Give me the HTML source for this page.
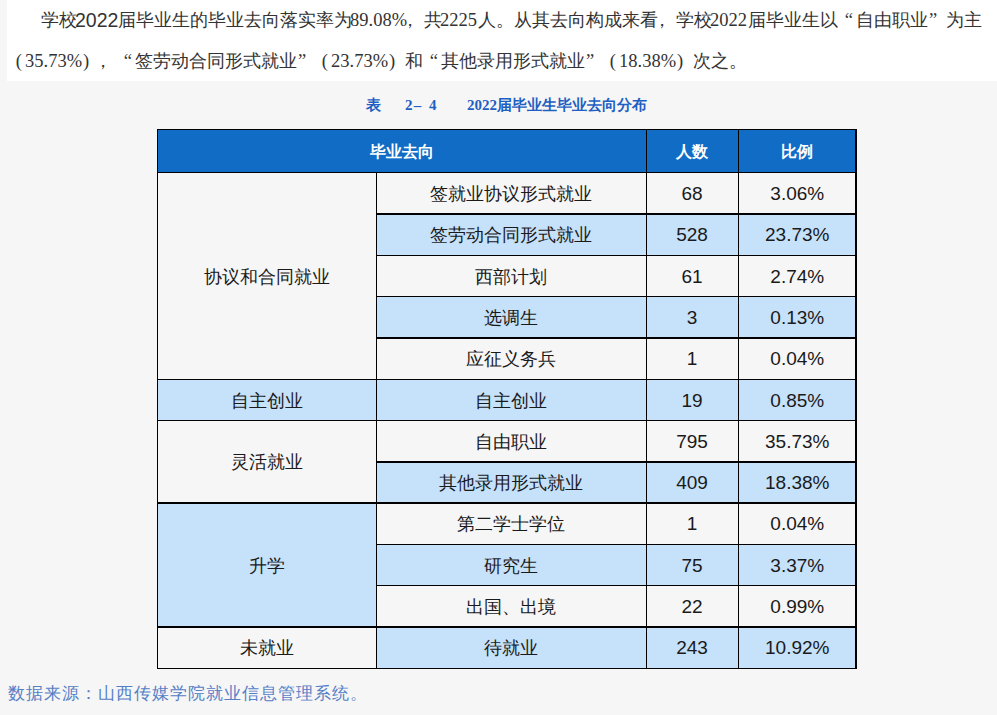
<!DOCTYPE html>
<html><head><meta charset="utf-8">
<style>
html,body{margin:0;padding:0;}
body{width:997px;height:715px;background:#f6f6f6;position:relative;overflow:hidden;font-family:"Liberation Sans",sans-serif;}
.wb{position:absolute;left:7px;top:0;width:990px;height:80.5px;background:#fff;}
.p{position:absolute;left:0;width:997px;height:22px;font-family:"Liberation Serif",serif;font-size:17.5px;color:#333;line-height:22px;}
.p b{position:absolute;top:0;font-weight:normal;display:block;white-space:nowrap;}
.p b.a{font-size:18.5px;}
.p.cap b.a{font-size:15px;}
.p.s{font-family:"Liberation Sans",sans-serif;}
.p.cap{font-size:15px;color:#1f5fc2;height:20px;line-height:20px;}
.p.cap b{font-weight:bold;}
.p.f{color:#5580c6;font-size:17px;}
.c{position:absolute;display:flex;align-items:center;justify-content:center;font-size:18px;color:#1a1a1a;box-sizing:border-box;white-space:nowrap;}
.c span{display:block;line-height:22px;padding-top:2px;}
.c.n{font-size:19px;}
.c.h{color:#fff;font-weight:bold;font-size:16px;}
.l{position:absolute;background:#000;}
</style></head><body>
<div class="wb"></div>
<div class="p" style="top:9px"><b style="left:40.50px;width:18px;text-align:center">学</b><b style="left:58.50px;width:18px;text-align:center">校</b></div><div class="p s" style="top:9px"><b style="left:75px;width:41px;font-size:19.5px">2022</b></div><div class="p" style="top:9px"><b style="left:117.50px;width:18px;text-align:center">届</b><b style="left:135.50px;width:18px;text-align:center">毕</b><b style="left:153.50px;width:18px;text-align:center">业</b><b style="left:171.50px;width:18px;text-align:center">生</b><b style="left:189.50px;width:18px;text-align:center">的</b><b style="left:207.50px;width:18px;text-align:center">毕</b><b style="left:225.50px;width:18px;text-align:center">业</b><b style="left:243.50px;width:18px;text-align:center">去</b><b style="left:261.50px;width:18px;text-align:center">向</b><b style="left:279.50px;width:18px;text-align:center">落</b><b style="left:297.50px;width:18px;text-align:center">实</b><b style="left:315.50px;width:18px;text-align:center">率</b><b style="left:333.50px;width:18px;text-align:center">为</b><b class="a" style="left:350.00px;width:54.0px;text-align:center">89.08%</b><b style="left:400.50px;width:18px;text-align:center">，</b><b style="left:423.50px;width:18px;text-align:center">共</b><b class="a" style="left:440.00px;width:36.0px;text-align:center">2225</b><b style="left:477.50px;width:18px;text-align:center">人</b><b style="left:495.50px;width:18px;text-align:center">。</b><b style="left:513.50px;width:18px;text-align:center">从</b><b style="left:531.50px;width:18px;text-align:center">其</b><b style="left:549.50px;width:18px;text-align:center">去</b><b style="left:567.50px;width:18px;text-align:center">向</b><b style="left:585.50px;width:18px;text-align:center">构</b><b style="left:603.50px;width:18px;text-align:center">成</b><b style="left:621.50px;width:18px;text-align:center">来</b><b style="left:639.50px;width:18px;text-align:center">看</b><b style="left:652.50px;width:18px;text-align:center">，</b><b style="left:675.50px;width:18px;text-align:center">学</b><b style="left:693.50px;width:18px;text-align:center">校</b><b class="a" style="left:710.00px;width:36.0px;text-align:center">2022</b><b style="left:747.50px;width:18px;text-align:center">届</b><b style="left:765.50px;width:18px;text-align:center">毕</b><b style="left:783.50px;width:18px;text-align:center">业</b><b style="left:801.50px;width:18px;text-align:center">生</b><b style="left:819.50px;width:18px;text-align:center">以</b><b class="a" style="left:836.00px;width:18px;text-align:right;box-sizing:border-box;padding-right:1px">“</b><b style="left:855.50px;width:18px;text-align:center">自</b><b style="left:873.50px;width:18px;text-align:center">由</b><b style="left:891.50px;width:18px;text-align:center">职</b><b style="left:909.50px;width:18px;text-align:center">业</b><b class="a" style="left:926.00px;width:18px;text-align:left;box-sizing:border-box;padding-left:3px">”</b><b style="left:945.50px;width:18px;text-align:center">为</b><b style="left:963.50px;width:18px;text-align:center">主</b></div><div class="p" style="top:50px"><b class="a" style="left:7.00px;width:18px;text-align:right;box-sizing:border-box;padding-right:3px">(</b><b class="a" style="left:25.00px;width:54.0px;text-align:center">35.73%</b><b class="a" style="left:79.00px;width:18px;text-align:left;box-sizing:border-box;padding-left:4px">)</b><b style="left:93.50px;width:18px;text-align:center">，</b><b class="a" style="left:115.00px;width:18px;text-align:right;box-sizing:border-box;padding-right:1px">“</b><b style="left:134.50px;width:18px;text-align:center">签</b><b style="left:152.50px;width:18px;text-align:center">劳</b><b style="left:170.50px;width:18px;text-align:center">动</b><b style="left:188.50px;width:18px;text-align:center">合</b><b style="left:206.50px;width:18px;text-align:center">同</b><b style="left:224.50px;width:18px;text-align:center">形</b><b style="left:242.50px;width:18px;text-align:center">式</b><b style="left:260.50px;width:18px;text-align:center">就</b><b style="left:278.50px;width:18px;text-align:center">业</b><b class="a" style="left:295.00px;width:18px;text-align:left;box-sizing:border-box;padding-left:3px">”</b><b class="a" style="left:313.00px;width:18px;text-align:right;box-sizing:border-box;padding-right:3px">(</b><b class="a" style="left:331.00px;width:54.0px;text-align:center">23.73%</b><b class="a" style="left:385.00px;width:18px;text-align:left;box-sizing:border-box;padding-left:4px">)</b><b style="left:404.50px;width:18px;text-align:center">和</b><b class="a" style="left:421.00px;width:18px;text-align:right;box-sizing:border-box;padding-right:1px">“</b><b style="left:440.50px;width:18px;text-align:center">其</b><b style="left:458.50px;width:18px;text-align:center">他</b><b style="left:476.50px;width:18px;text-align:center">录</b><b style="left:494.50px;width:18px;text-align:center">用</b><b style="left:512.50px;width:18px;text-align:center">形</b><b style="left:530.50px;width:18px;text-align:center">式</b><b style="left:548.50px;width:18px;text-align:center">就</b><b style="left:566.50px;width:18px;text-align:center">业</b><b class="a" style="left:583.00px;width:18px;text-align:left;box-sizing:border-box;padding-left:3px">”</b><b class="a" style="left:601.00px;width:18px;text-align:right;box-sizing:border-box;padding-right:3px">(</b><b class="a" style="left:619.00px;width:54.0px;text-align:center">18.38%</b><b class="a" style="left:673.00px;width:18px;text-align:left;box-sizing:border-box;padding-left:4px">)</b><b style="left:692.50px;width:18px;text-align:center">次</b><b style="left:710.50px;width:18px;text-align:center">之</b><b style="left:728.50px;width:18px;text-align:center">。</b></div>
<div class="p cap" style="top:94.5px"><b style="left:366.00px;width:15px;text-align:center">表</b></div><div class="p cap" style="top:94.5px"><b class="a" style="left:405.00px;width:7.5px;text-align:center">2</b></div><div class="p cap" style="top:94.5px"><b class="a" style="left:413.5px;width:8px;text-align:center">–</b></div><div class="p cap" style="top:94.5px"><b class="a" style="left:429.00px;width:7.5px;text-align:center">4</b></div><div class="p cap" style="top:94.5px"><b class="a" style="left:467.00px;width:30.0px;text-align:center">2022</b><b style="left:497.00px;width:15px;text-align:center">届</b><b style="left:512.00px;width:15px;text-align:center">毕</b><b style="left:527.00px;width:15px;text-align:center">业</b><b style="left:542.00px;width:15px;text-align:center">生</b><b style="left:557.00px;width:15px;text-align:center">毕</b><b style="left:572.00px;width:15px;text-align:center">业</b><b style="left:587.00px;width:15px;text-align:center">去</b><b style="left:602.00px;width:15px;text-align:center">向</b><b style="left:617.00px;width:15px;text-align:center">分</b><b style="left:632.00px;width:15px;text-align:center">布</b></div>
<div class="c h" style="left:157px;top:129px;width:489px;height:43px;background:#106cc4"><span>毕业去向</span></div><div class="c h" style="left:646px;top:129px;width:92px;height:43px;background:#106cc4"><span>人数</span></div><div class="c h" style="left:738px;top:129px;width:118.5px;height:43px;background:#106cc4"><span>比例</span></div><div class="c " style="left:376px;top:172px;width:270px;height:41.5px;background:#f6f6f6"><span>签就业协议形式就业</span></div><div class="c n" style="left:646px;top:172px;width:92px;height:41.5px;background:#f6f6f6"><span>68</span></div><div class="c n" style="left:738px;top:172px;width:118.5px;height:41.5px;background:#f6f6f6"><span>3.06%</span></div><div class="c " style="left:376px;top:213.5px;width:270px;height:41.5px;background:#c6e1fa"><span>签劳动合同形式就业</span></div><div class="c n" style="left:646px;top:213.5px;width:92px;height:41.5px;background:#c6e1fa"><span>528</span></div><div class="c n" style="left:738px;top:213.5px;width:118.5px;height:41.5px;background:#c6e1fa"><span>23.73%</span></div><div class="c " style="left:376px;top:255px;width:270px;height:41px;background:#f6f6f6"><span>西部计划</span></div><div class="c n" style="left:646px;top:255px;width:92px;height:41px;background:#f6f6f6"><span>61</span></div><div class="c n" style="left:738px;top:255px;width:118.5px;height:41px;background:#f6f6f6"><span>2.74%</span></div><div class="c " style="left:376px;top:296px;width:270px;height:41.5px;background:#c6e1fa"><span>选调生</span></div><div class="c n" style="left:646px;top:296px;width:92px;height:41.5px;background:#c6e1fa"><span>3</span></div><div class="c n" style="left:738px;top:296px;width:118.5px;height:41.5px;background:#c6e1fa"><span>0.13%</span></div><div class="c " style="left:376px;top:337.5px;width:270px;height:41.5px;background:#f6f6f6"><span>应征义务兵</span></div><div class="c n" style="left:646px;top:337.5px;width:92px;height:41.5px;background:#f6f6f6"><span>1</span></div><div class="c n" style="left:738px;top:337.5px;width:118.5px;height:41.5px;background:#f6f6f6"><span>0.04%</span></div><div class="c " style="left:376px;top:379px;width:270px;height:41px;background:#c6e1fa"><span>自主创业</span></div><div class="c n" style="left:646px;top:379px;width:92px;height:41px;background:#c6e1fa"><span>19</span></div><div class="c n" style="left:738px;top:379px;width:118.5px;height:41px;background:#c6e1fa"><span>0.85%</span></div><div class="c " style="left:376px;top:420px;width:270px;height:41.5px;background:#f6f6f6"><span>自由职业</span></div><div class="c n" style="left:646px;top:420px;width:92px;height:41.5px;background:#f6f6f6"><span>795</span></div><div class="c n" style="left:738px;top:420px;width:118.5px;height:41.5px;background:#f6f6f6"><span>35.73%</span></div><div class="c " style="left:376px;top:461.5px;width:270px;height:41.0px;background:#c6e1fa"><span>其他录用形式就业</span></div><div class="c n" style="left:646px;top:461.5px;width:92px;height:41.0px;background:#c6e1fa"><span>409</span></div><div class="c n" style="left:738px;top:461.5px;width:118.5px;height:41.0px;background:#c6e1fa"><span>18.38%</span></div><div class="c " style="left:376px;top:502.5px;width:270px;height:41.5px;background:#f6f6f6"><span>第二学士学位</span></div><div class="c n" style="left:646px;top:502.5px;width:92px;height:41.5px;background:#f6f6f6"><span>1</span></div><div class="c n" style="left:738px;top:502.5px;width:118.5px;height:41.5px;background:#f6f6f6"><span>0.04%</span></div><div class="c " style="left:376px;top:544px;width:270px;height:41px;background:#c6e1fa"><span>研究生</span></div><div class="c n" style="left:646px;top:544px;width:92px;height:41px;background:#c6e1fa"><span>75</span></div><div class="c n" style="left:738px;top:544px;width:118.5px;height:41px;background:#c6e1fa"><span>3.37%</span></div><div class="c " style="left:376px;top:585px;width:270px;height:41.5px;background:#f6f6f6"><span>出国、出境</span></div><div class="c n" style="left:646px;top:585px;width:92px;height:41.5px;background:#f6f6f6"><span>22</span></div><div class="c n" style="left:738px;top:585px;width:118.5px;height:41.5px;background:#f6f6f6"><span>0.99%</span></div><div class="c " style="left:376px;top:626.5px;width:270px;height:41.5px;background:#c6e1fa"><span>待就业</span></div><div class="c n" style="left:646px;top:626.5px;width:92px;height:41.5px;background:#c6e1fa"><span>243</span></div><div class="c n" style="left:738px;top:626.5px;width:118.5px;height:41.5px;background:#c6e1fa"><span>10.92%</span></div><div class="c " style="left:157px;top:172px;width:219px;height:207px;background:#f6f6f6"><span>协议和合同就业</span></div><div class="c " style="left:157px;top:379px;width:219px;height:41px;background:#c6e1fa"><span>自主创业</span></div><div class="c " style="left:157px;top:420px;width:219px;height:82.5px;background:#f6f6f6"><span>灵活就业</span></div><div class="c " style="left:157px;top:502.5px;width:219px;height:124.0px;background:#c6e1fa"><span>升学</span></div><div class="c " style="left:157px;top:626.5px;width:219px;height:41.5px;background:#f6f6f6"><span>未就业</span></div>
<div class="l" style="left:157px;top:129px;width:700px;height:1px"></div><div class="l" style="left:157px;top:172px;width:700px;height:1px"></div><div class="l" style="left:376px;top:213px;width:481px;height:2px"></div><div class="l" style="left:376px;top:255px;width:481px;height:1px"></div><div class="l" style="left:376px;top:296px;width:481px;height:1px"></div><div class="l" style="left:376px;top:337px;width:481px;height:2px"></div><div class="l" style="left:157px;top:379px;width:700px;height:1px"></div><div class="l" style="left:157px;top:420px;width:700px;height:1px"></div><div class="l" style="left:376px;top:461px;width:481px;height:2px"></div><div class="l" style="left:157px;top:502px;width:700px;height:2px"></div><div class="l" style="left:376px;top:544px;width:481px;height:1px"></div><div class="l" style="left:376px;top:585px;width:481px;height:1px"></div><div class="l" style="left:157px;top:626px;width:700px;height:2px"></div><div class="l" style="left:157px;top:668px;width:700px;height:1px"></div><div class="l" style="left:157px;top:129px;width:1px;height:540px"></div><div class="l" style="left:376px;top:172px;width:1px;height:497px"></div><div class="l" style="left:646px;top:129px;width:1px;height:540px"></div><div class="l" style="left:738px;top:129px;width:1px;height:540px"></div><div class="l" style="left:855px;top:129px;width:2px;height:540px"></div>
<div class="p f" style="top:683px"><b style="left:7.00px;width:18px;text-align:center">数</b><b style="left:25.00px;width:18px;text-align:center">据</b><b style="left:43.00px;width:18px;text-align:center">来</b><b style="left:61.00px;width:18px;text-align:center">源</b><b style="left:79.00px;width:18px;text-align:center">：</b><b style="left:97.00px;width:18px;text-align:center">山</b><b style="left:115.00px;width:18px;text-align:center">西</b><b style="left:133.00px;width:18px;text-align:center">传</b><b style="left:151.00px;width:18px;text-align:center">媒</b><b style="left:169.00px;width:18px;text-align:center">学</b><b style="left:187.00px;width:18px;text-align:center">院</b><b style="left:205.00px;width:18px;text-align:center">就</b><b style="left:223.00px;width:18px;text-align:center">业</b><b style="left:241.00px;width:18px;text-align:center">信</b><b style="left:259.00px;width:18px;text-align:center">息</b><b style="left:277.00px;width:18px;text-align:center">管</b><b style="left:295.00px;width:18px;text-align:center">理</b><b style="left:313.00px;width:18px;text-align:center">系</b><b style="left:331.00px;width:18px;text-align:center">统</b><b style="left:349.00px;width:18px;text-align:center">。</b></div>
</body></html>
